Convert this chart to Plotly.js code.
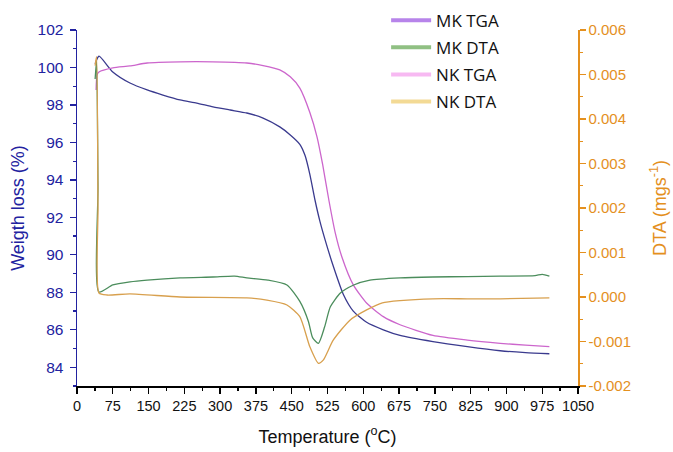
<!DOCTYPE html>
<html>
<head>
<meta charset="utf-8">
<script src="https://cdn.plot.ly/plotly-3.0.1.min.js"></script>
<style>html,body{margin:0;padding:0;background:#fff;}#chart{width:673px;height:452px;}</style>
</head>
<body>
<div id="chart"></div>
<script>
// ---- Data ----
const mkTgaT = [38, 46, 75, 111, 147, 180, 216, 251, 285, 321, 356, 390, 425, 447, 467, 478, 488, 499, 509, 520, 537, 558, 579, 607, 642, 677, 746, 818, 887, 940, 990];
const mkTgaW = [100.2, 100.6, 99.76, 99.17, 98.8, 98.53, 98.27, 98.1, 97.9, 97.73, 97.57, 97.3, 96.83, 96.4, 95.9, 95.3, 94.3, 92.9, 91.8, 90.8, 89.4, 87.9, 87.0, 86.4, 86.0, 85.7, 85.37, 85.1, 84.88, 84.78, 84.72];

const nkTgaT = [40, 42, 46, 75, 111, 147, 216, 285, 356, 390, 425, 447, 467, 488, 503, 515, 528, 541, 555, 579, 608, 642, 677, 746, 818, 887, 940, 990];
const nkTgaW = [98.8, 99.6, 99.76, 99.98, 100.08, 100.24, 100.3, 100.3, 100.24, 100.1, 99.87, 99.5, 98.9, 97.6, 96.3, 94.8, 92.9, 91.2, 89.9, 88.4, 87.4, 86.7, 86.27, 85.7, 85.45, 85.28, 85.18, 85.1];

const mkDtaT = [38, 41, 44, 46, 75, 111, 147, 216, 285, 330, 356, 400, 440, 467, 485, 494, 506, 519, 531, 552, 580, 614, 677, 746, 818, 887, 960, 975, 990];
const mkDtaD = [0.0049, 0.0053, 0.0025, 0.00011, 0.00027, 0.00034, 0.00038, 0.00043, 0.00045, 0.00047, 0.00043, 0.00038, 0.00027, -0.0001, -0.00055, -0.00092, -0.00104, -0.00067, -0.00022, 0.00009, 0.00027, 0.00038, 0.00043, 0.00045, 0.00046, 0.00047, 0.00048, 0.00051, 0.00047];

const nkDtaT = [38, 41, 44, 46, 63, 111, 216, 356, 398, 440, 467, 488, 506, 516, 537, 572, 607, 640, 677, 746, 818, 887, 990];
const nkDtaD = [0.0052, 0.0054, 0.002, 0.00009, 0.000045, 0.00007, 0.0, -0.00002, -0.00007, -0.00018, -0.00044, -0.00112, -0.00149, -0.00142, -0.00097, -0.00052, -0.00029, -0.00013, -0.00008, -0.00004, -0.00004, -0.00004, -0.00002];

const seriesNames = ["MK TGA", "MK DTA", "NK TGA", "NK DTA"];
const xTicks = [0, 75, 150, 225, 300, 375, 450, 525, 600, 675, 750, 825, 900, 975, 1050];
const yTicks = [84, 86, 88, 90, 92, 94, 96, 98, 100, 102];
const y2Ticks = [-0.002, -0.001, 0.000, 0.001, 0.002, 0.003, 0.004, 0.005, 0.006];
const y2TickText = ["-0.002", "-0.001", "0.000", "0.001", "0.002", "0.003", "0.004", "0.005", "0.006"];

// ---- Styles ----
const lineColors = ["#3a3a8e", "#4b8d5c", "#cc66cc", "#d8a04e"];
const legendColors = ["#b784ea", "#90c083", "#f7b9f2", "#f3da95"];
const blue = "#2222a0";
const orange = "#e4901e";
const font = "Liberation Sans, Arial, sans-serif";

const sp = {shape: "spline", smoothing: 0.6};
const traces = [
  {x: mkTgaT, y: mkTgaW, yaxis: "y", mode: "lines", line: Object.assign({color: lineColors[0], width: 1.3}, sp), showlegend: false},
  {x: mkDtaT, y: mkDtaD, yaxis: "y2", mode: "lines", line: Object.assign({color: lineColors[1], width: 1.3}, sp), showlegend: false},
  {x: nkTgaT, y: nkTgaW, yaxis: "y", mode: "lines", line: Object.assign({color: lineColors[2], width: 1.3}, sp), showlegend: false},
  {x: nkDtaT, y: nkDtaD, yaxis: "y2", mode: "lines", line: Object.assign({color: lineColors[3], width: 1.3}, sp), showlegend: false}
];
seriesNames.forEach((n, i) => {
  traces.push({x: [null], y: [null], name: n, mode: "lines", legendgroup: "g" + i,
    line: {color: legendColors[i], width: 4}, showlegend: true});
});

const layout = {
  width: 673, height: 452,
  margin: {l: 77, r: 95, t: 30, b: 66, autoexpand: false},
  paper_bgcolor: "#fff", plot_bgcolor: "#fff",
  font: {family: font, size: 14, color: "#000"},
  showlegend: true,
  legend: {x: 0.617, y: 0.994, xanchor: "left", yanchor: "top", yref: "container", bgcolor: "rgba(0,0,0,0)",
    font: {family: "Open Sans, Liberation Sans, sans-serif", size: 17, color: "#111"},
    tracegroupgap: 2, itemwidth: 40},
  xaxis: {
    range: [0, 1050], tickvals: xTicks, ticktext: xTicks.map(String),
    showgrid: false, zeroline: false, showline: true, linecolor: "#000", linewidth: 1.5,
    ticks: "outside", ticklen: 6, tickwidth: 1.3, tickcolor: "#000",
    minor: {dtick: 37.5, tick0: 0, ticks: "outside", ticklen: 3, tickcolor: "#000", showgrid: false},
    tickfont: {family: font, size: 14.5, color: "#111"},
    title: {text: "Temperature (<sup>o</sup>C)", font: {family: font, size: 18, color: "#111"}, standoff: 17}
  },
  yaxis: {
    range: [83, 102], tickvals: yTicks, ticktext: yTicks.map(String),
    showgrid: false, zeroline: false, showline: true, linecolor: blue, linewidth: 1.5,
    ticks: "outside", ticklen: 6, tickwidth: 1.3, tickcolor: blue,
    minor: {dtick: 1, tick0: 84, ticks: "outside", ticklen: 3, tickcolor: blue, showgrid: false},
    tickfont: {family: font, size: 15.5, color: blue}, ticklabelstandoff: 3,
    title: {text: "Weigth loss (%)", font: {family: font, size: 18, color: blue}, standoff: 8}
  },
  yaxis2: {
    overlaying: "y", side: "right", anchor: "x",
    range: [-0.002, 0.006], tickvals: y2Ticks, ticktext: y2TickText,
    showgrid: false, zeroline: false, showline: true, linecolor: orange, linewidth: 1.5,
    ticks: "outside", ticklen: 6, tickwidth: 1.3, tickcolor: orange,
    minor: {dtick: 0.0005, tick0: 0, ticks: "outside", ticklen: 3, tickcolor: orange, showgrid: false},
    tickfont: {family: font, size: 15, color: orange},
    title: {text: "DTA (mgs<sup>-1</sup>)", font: {family: font, size: 18, color: orange}, standoff: 23}
  }
};

Plotly.newPlot("chart", traces, layout, {displayModeBar: false, staticPlot: true});
</script>
</body>
</html>
